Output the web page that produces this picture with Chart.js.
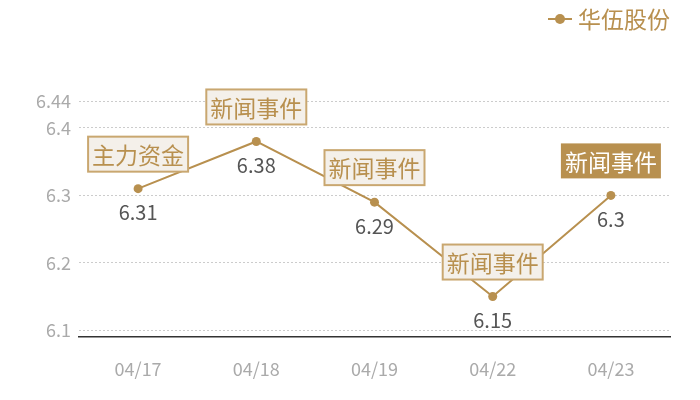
<!DOCTYPE html>
<html>
<head>
<meta charset="utf-8">
<script src="https://cdn.jsdelivr.net/npm/chart.js@4"></script>
<style>
  body { margin: 0; background: #fff; }
  #wrap { width: 700px; height: 400px; }
</style>
</head>
<body>
<div id="wrap"><canvas id="chart"></canvas></div>
<script>
// dados do gráfico
const dates = ['04/17', '04/18', '04/19', '04/22', '04/23'];
const prices = [6.31, 6.38, 6.29, 6.15, 6.3];
const events = ['主力资金', '新闻事件', '新闻事件', '新闻事件', '新闻事件'];
const yTicks = [6.1, 6.2, 6.3, 6.4, 6.44];
const seriesName = '华伍股份';

const gold = '#b8904f';
const font = '"Noto Sans CJK SC", "Noto Sans", sans-serif';

// plugin para desenhar legenda, rótulos de valor e caixas de eventos
const extras = {
  id: 'extras',
  afterDatasetsDraw(chart) {
    const ctx = chart.ctx;
    const meta = chart.getDatasetMeta(0);
    ctx.save();

    // legenda no canto superior direito
    ctx.strokeStyle = gold;
    ctx.lineWidth = 2;
    ctx.beginPath();
    ctx.moveTo(548, 19);
    ctx.lineTo(572, 19);
    ctx.stroke();
    ctx.fillStyle = gold;
    ctx.beginPath();
    ctx.arc(560, 19, 5, 0, Math.PI * 2);
    ctx.fill();
    ctx.font = '23px ' + font;
    ctx.textBaseline = 'middle';
    ctx.textAlign = 'left';
    ctx.fillText(seriesName, 578, 19);

    meta.data.forEach((pt, i) => {
      // valor abaixo do ponto
      ctx.fillStyle = '#555';
      ctx.font = '20px ' + font;
      ctx.textAlign = 'center';
      ctx.textBaseline = 'middle';
      ctx.fillText(String(prices[i]), pt.x, pt.y + 24);

      // caixa do evento acima do ponto
      const w = 100, h = 35;
      const bx = pt.x - w / 2, by = pt.y - 17 - h;
      const last = i === prices.length - 1;
      ctx.fillStyle = last ? gold : '#f4f0ea';
      ctx.fillRect(bx, by, w, h);
      if (!last) {
        ctx.strokeStyle = '#c9a770';
        ctx.lineWidth = 2;
        ctx.strokeRect(bx, by, w, h);
      }
      ctx.fillStyle = last ? '#fff' : gold;
      ctx.font = '23px ' + font;
      ctx.fillText(events[i], pt.x, by + h / 2 + 1);
    });
    ctx.restore();
  }
};

new Chart(document.getElementById('chart'), {
  type: 'line',
  data: {
    labels: dates,
    datasets: [{
      label: seriesName,
      data: prices,
      borderColor: gold,
      backgroundColor: gold,
      borderWidth: 2,
      pointRadius: 4.5,
      pointBackgroundColor: gold,
      pointBorderWidth: 0,
      tension: 0
    }]
  },
  options: {
    responsive: true,
    maintainAspectRatio: false,
    animation: false,
    layout: { padding: { top: 101, right: 30, left: 0, bottom: 0 } },
    plugins: {
      legend: { display: false },
      tooltip: { enabled: false }
    },
    scales: {
      x: {
        offset: true,
        grid: { display: false, drawTicks: false },
        border: { display: true, color: '#333', width: 1.5 },
        ticks: { color: '#aaa', font: { family: font, size: 18 }, padding: 21 },
        afterFit(scale) { scale.height = 63; }
      },
      y: {
        min: 6.09,
        max: 6.44,
        afterBuildTicks(scale) {
          scale.ticks = yTicks.map(v => ({ value: v }));
        },
        grid: { color: '#ccc', drawTicks: false },
        border: { display: false, dash: [2, 2] },
        ticks: {
          color: '#aaa',
          font: { family: font, size: 18 },
          padding: 8,
          callback: v => String(v)
        },
        afterFit(scale) { scale.width = 79; }
      }
    }
  },
  plugins: [extras]
});
</script>
</body>
</html>
